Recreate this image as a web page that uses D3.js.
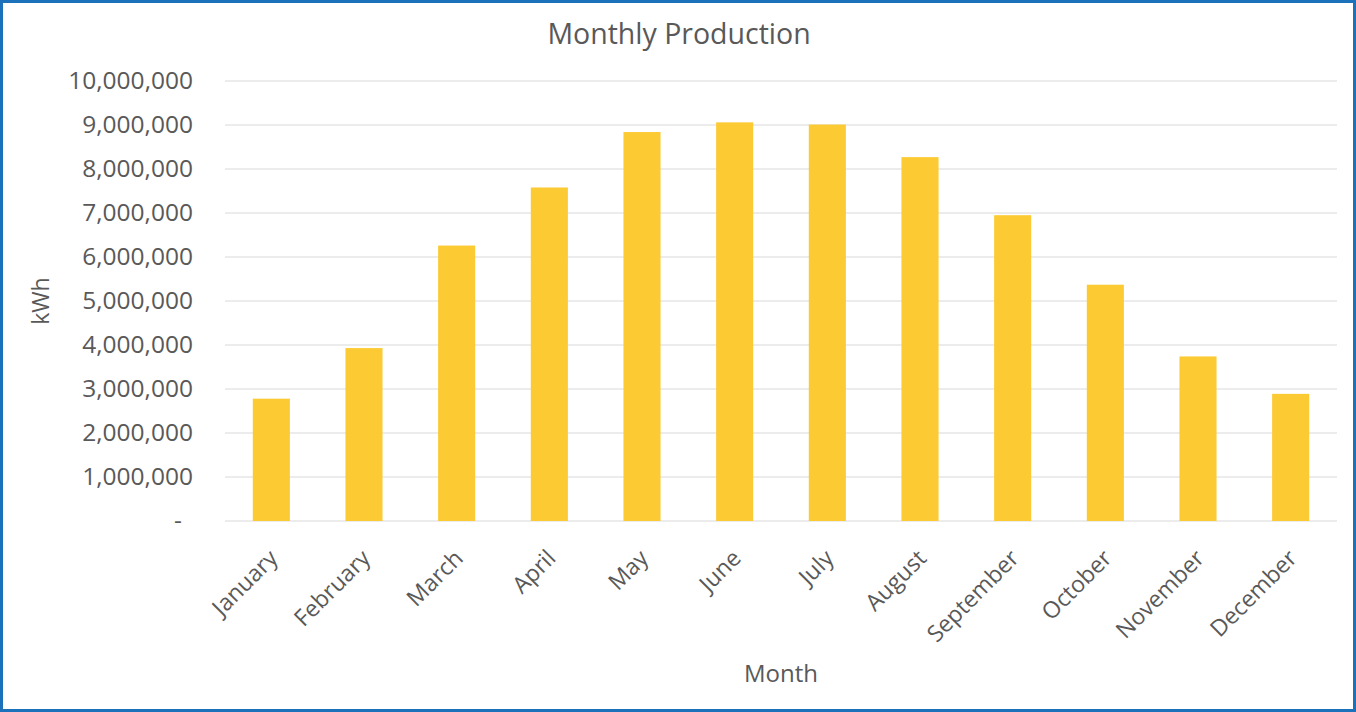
<!DOCTYPE html>
<html>
<head>
<meta charset="utf-8">
<script src="https://cdn.jsdelivr.net/npm/d3@7"></script>
<style>
  html, body { margin: 0; padding: 0; background: #fff; }
  svg { display: block; }
  text { font-family: "Open Sans", sans-serif; fill: #595959; }
</style>
</head>
<body>
<svg id="chart" width="1356" height="712"></svg>
<script>
const months = ["January","February","March","April","May","June","July","August","September","October","November","December"];
const production = [2780000, 3930000, 6260000, 7580000, 8840000, 9060000, 9010000, 8270000, 6950000, 5370000, 3740000, 2890000];
const yTicks = [0,1000000,2000000,3000000,4000000,5000000,6000000,7000000,8000000,9000000,10000000];
const title = "Monthly Production";
const yTitle = "kWh";
const xTitle = "Month";

const W = 1356, H = 712;
const m = {left: 225, right: 19, top: 81, bottom: 191};
const svg = d3.select("#chart");

svg.append("rect").attr("x", 1.5).attr("y", 1.5).attr("width", W - 3).attr("height", H - 3)
  .attr("fill", "#fff").attr("stroke", "#1C72BA").attr("stroke-width", 3);

const x = d3.scaleBand().domain(months).range([m.left, W - m.right]).paddingInner(0.6).paddingOuter(0.3);
const y = d3.scaleLinear().domain([0, 10000000]).range([H - m.bottom, m.top]);

// gridlines
svg.append("g").selectAll("line").data(yTicks).join("line")
  .attr("x1", m.left).attr("x2", W - m.right)
  .attr("y1", d => y(d)).attr("y2", d => y(d))
  .attr("stroke", "#D9D9D9").attr("stroke-width", 1.2);

// y axis labels
const fmt = d3.format(",");
const yAxis = svg.append("g").attr("transform", `translate(${m.left - 32},0)`)
  .call(d3.axisLeft(y).tickValues(yTicks).tickSize(0).tickPadding(0).tickFormat(d => d === 0 ? "-" : fmt(d)));
yAxis.select(".domain").remove();
yAxis.selectAll("text").attr("font-size", 24.5).attr("fill", "#595959")
  .attr("font-family", "Open Sans, sans-serif")
  .attr("dx", d => d === 0 ? -11 : 0);

// bars
svg.append("g").selectAll("rect").data(production).join("rect")
  .attr("x", (d, i) => x(months[i]))
  .attr("width", x.bandwidth())
  .attr("y", d => y(d))
  .attr("height", d => y(0) - y(d))
  .attr("fill", "#FCCA32");

// x labels
svg.append("g").selectAll("text").data(months).join("text")
  .attr("transform", d => `translate(${x(d) + x.bandwidth() / 2 + 2},${y(0) + 33}) rotate(-45)`)
  .attr("text-anchor", "end")
  .attr("dy", "0.35em")
  .attr("font-size", 23)
  .text(d => d);

// titles
svg.append("text").attr("x", (m.left + W - m.right) / 2 - 102).attr("y", 44)
  .attr("text-anchor", "middle").attr("font-size", 28.5).text(title);
svg.append("text").attr("transform", `translate(49,${y(5000000)}) rotate(-90)`)
  .attr("text-anchor", "middle").attr("font-size", 23).text(yTitle);
svg.append("text").attr("x", (m.left + W - m.right) / 2).attr("y", 682)
  .attr("text-anchor", "middle").attr("font-size", 24).text(xTitle);
</script>
</body>
</html>
